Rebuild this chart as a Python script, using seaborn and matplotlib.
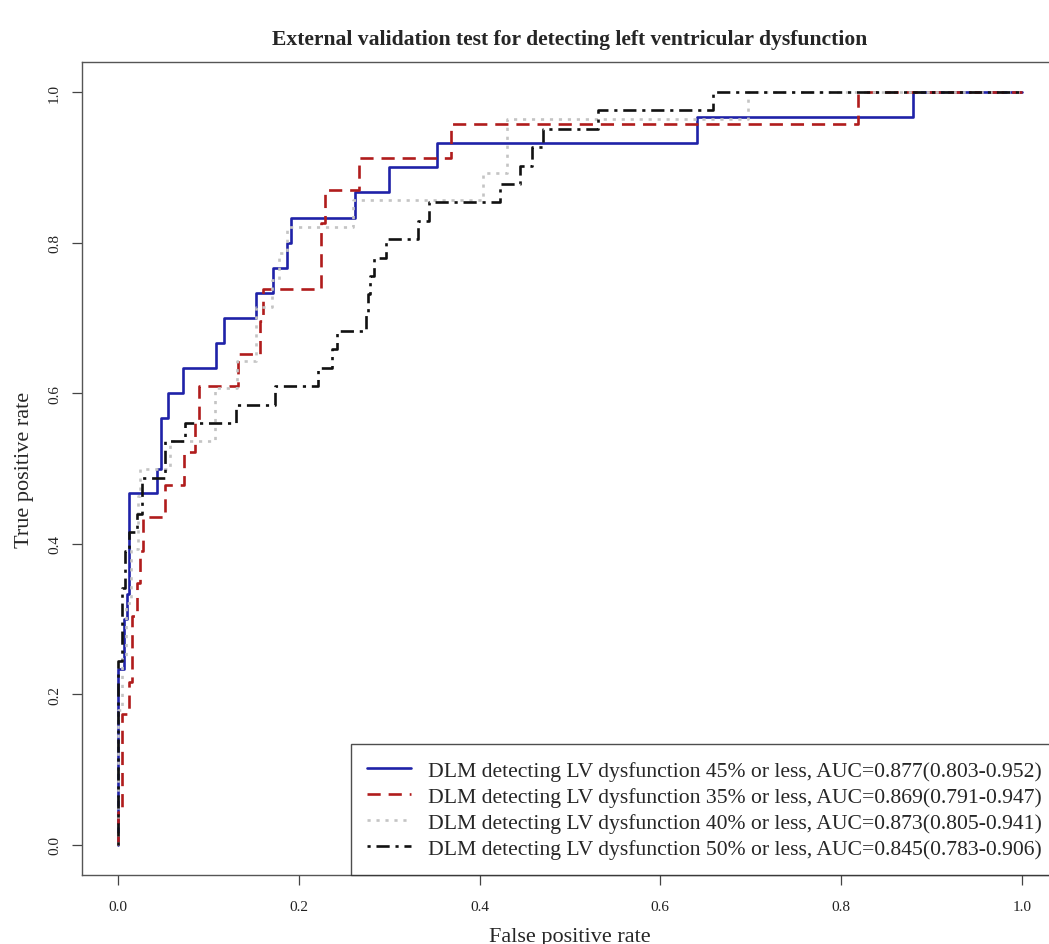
import matplotlib
matplotlib.use("Agg")
import matplotlib.pyplot as plt
import seaborn as sns

# ROC staircase: at each fpr value the tpr jumps to the listed level
fpr_45 = [0, 0, 0.006, 0.010, 0.0125, 0.043, 0.047, 0.055, 0.0715, 0.108, 0.117, 0.153,
          0.171, 0.187, 0.191, 0.262, 0.300, 0.353, 0.640, 0.880, 1.0]
tpr_45 = [0, 0.233, 0.300, 0.333, 0.467, 0.500, 0.567, 0.600, 0.633, 0.667, 0.700, 0.733,
          0.767, 0.800, 0.833, 0.867, 0.900, 0.933, 0.967, 1.0, 1.0]

fpr_35 = [0, 0, 0.0044, 0.012, 0.0155, 0.021, 0.024, 0.028, 0.052, 0.073, 0.085, 0.089,
          0.133, 0.157, 0.160, 0.225, 0.229, 0.2666, 0.368, 0.819, 1.0]
tpr_35 = [0, 0.0435, 0.174, 0.217, 0.304, 0.348, 0.391, 0.435, 0.478, 0.522, 0.565, 0.609,
          0.652, 0.696, 0.739, 0.826, 0.870, 0.913, 0.957, 1.0, 1.0]

fpr_40 = [0, 0, 0.0044, 0.009, 0.014, 0.022, 0.024, 0.0575, 0.107, 0.131, 0.153, 0.170,
          0.178, 0.1866, 0.260, 0.404, 0.430, 0.6966, 1.0]
tpr_40 = [0, 0.179, 0.250, 0.321, 0.393, 0.464, 0.500, 0.536, 0.607, 0.643, 0.714, 0.750,
          0.786, 0.821, 0.857, 0.893, 0.964, 1.0, 1.0]

fpr_50 = [0, 0, 0.004, 0.008, 0.012, 0.021, 0.0265, 0.0516, 0.074, 0.1305, 0.174, 0.2216,
          0.237, 0.242, 0.274, 0.276, 0.279, 0.2835, 0.2965, 0.3315, 0.344, 0.4226, 0.4447,
          0.4576, 0.4705, 0.531, 0.658, 1.0]
tpr_50 = [0, 0.244, 0.341, 0.390, 0.415, 0.439, 0.488, 0.537, 0.561, 0.585, 0.610, 0.634,
          0.659, 0.683, 0.707, 0.732, 0.756, 0.780, 0.805, 0.829, 0.854, 0.878, 0.902,
          0.927, 0.951, 0.976, 1.0, 1.0]

labels = [
    "DLM detecting LV dysfunction 45% or less, AUC=0.877(0.803-0.952)",
    "DLM detecting LV dysfunction 35% or less, AUC=0.869(0.791-0.947)",
    "DLM detecting LV dysfunction 40% or less, AUC=0.873(0.805-0.941)",
    "DLM detecting LV dysfunction 50% or less, AUC=0.845(0.783-0.906)",
]
colors = ["#1f22a8", "#b01c1c", "#c4c4c4", "#111111"]
dash_styles = ["-", (0, (5, 3)), (0, (1.2, 2.2)), (0, (1.2, 2.2, 5, 2.2))]

sns.set_theme(style="white")
plt.rcParams["font.family"] = ["Liberation Serif", "DejaVu Serif"]

fig = plt.figure(figsize=(10.49, 9.45), dpi=100)
ax = fig.add_axes([82 / 1049, 69 / 945, 976 / 1049, 813 / 945])

series = [(fpr_45, tpr_45), (fpr_35, tpr_35), (fpr_40, tpr_40), (fpr_50, tpr_50)]
for (fx, ty), lab, col, ls in zip(series, labels, colors, dash_styles):
    sns.lineplot(x=fx, y=ty, ax=ax, sort=False, estimator=None, color=col,
                 linewidth=1.9, linestyle=ls, drawstyle="steps-post", label=lab)

ax.set_xlim(-0.04, 1.04)
ax.set_ylim(-0.04, 1.04)
ticks = [0, 0.2, 0.4, 0.6, 0.8, 1.0]
tick_text = ["0.0", "0.2", "0.4", "0.6", "0.8", "1.0"]
ax.set_xticks(ticks)
ax.set_yticks(ticks)
ax.set_xticklabels(tick_text)
ax.set_yticklabels(tick_text, rotation=90, va="center")
ax.tick_params(axis="both", direction="out", length=7, width=0.9, color="#444444",
               labelsize=11, labelcolor="#222222", bottom=True, left=True)
ax.tick_params(axis="x", pad=11)
ax.tick_params(axis="y", pad=8)
for sp in ax.spines.values():
    sp.set_color("#555555")
    sp.set_linewidth(1.0)

ax.set_xlabel("False positive rate", fontsize=16, labelpad=10)
ax.set_ylabel("True positive rate", fontsize=16, labelpad=10)
ax.set_title("External validation test for detecting left ventricular dysfunction",
             fontsize=15.6, fontweight="bold", pad=13)

leg = ax.legend(loc="lower right", fontsize=15.6, frameon=True, fancybox=False,
                edgecolor="#222222", borderaxespad=0, handlelength=2.0,
                handletextpad=0.8, labelspacing=0.27, borderpad=0.75)
leg.get_frame().set_linewidth(1.0)

fig.savefig("out.png", dpi=100)
